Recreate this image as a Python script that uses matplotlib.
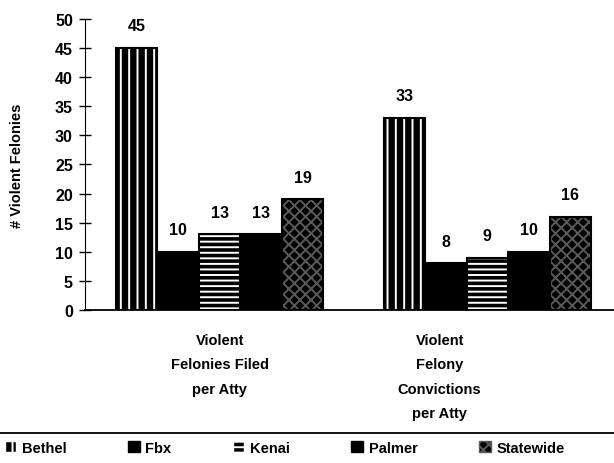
import matplotlib.pyplot as plt
from matplotlib.patches import Patch
from matplotlib.lines import Line2D

plt.rcParams['font.family'] = ['Liberation Sans', 'DejaVu Sans']
plt.rcParams['font.weight'] = 'bold'
plt.rcParams['axes.labelweight'] = 'bold'
plt.rcParams['hatch.linewidth'] = 1.4

# data
offices = ["Bethel", "Fbx", "Kenai", "Palmer", "Statewide"]
filed = [45, 10, 13, 13, 19]
convictions = [33, 8, 9, 10, 16]
categories = ["Violent\nFelonies Filed\nper Atty", "Violent\nFelony\nConvictions\nper Atty"]

# bar styles per office: (facecolor, hatch, hatch colour)
styles = [
    ("black", "||", "white"),
    ("black", None, "black"),
    ("black", "---", "white"),
    ("black", None, "black"),
    ("black", "xxx", "#5a5a5a"),
]

fig = plt.figure(figsize=(6.14, 4.64), dpi=100)
ax = fig.add_axes([0.138, 0.33, 0.862, 0.627])

group_starts = [1.25, 7.7]
for start, vals in zip(group_starts, [filed, convictions]):
    for i, (v, (fc, h, hc)) in enumerate(zip(vals, styles)):
        x = start + i
        ax.bar(x, v, width=1.0, color=fc, edgecolor=hc, hatch=h, linewidth=0)
        ax.bar(x, v, width=1.0, fill=False, edgecolor="black", linewidth=1.5)
        ax.text(x, v + 2.5, str(v), ha="center", va="bottom", fontsize=11.5)

ax.set_xlim(0, 12.75)
ax.set_ylim(0, 50)
ax.set_yticks(range(0, 51, 5))
ax.set_xticks([])
ax.tick_params(axis="y", direction="inout", length=9, width=1, labelsize=11.5, pad=4)
ax.spines["top"].set_visible(False)
ax.spines["right"].set_visible(False)
ax.spines["bottom"].set_linewidth(1.3)
ax.set_ylabel("# Violent Felonies", fontsize=10.5, labelpad=22)

# category labels under each group
for xpos, label in zip([3.25, 8.55], categories):
    ax.text(xpos, -4, label, ha="center", va="top", fontsize=10.5, linespacing=1.93)

# rule above legend
fig.add_artist(Line2D([0, 1], [0.065, 0.065], color="black", linewidth=1.3))

handles = [Patch(facecolor=fc, edgecolor=hc, hatch=h) for fc, h, hc in styles]
fig.legend(handles, offices, loc="lower left", bbox_to_anchor=(-0.014, -0.01), ncol=5,
           frameon=False, fontsize=10.5, handlelength=0.8, handleheight=0.8,
           handletextpad=0.4, columnspacing=4.2)

fig.savefig("out.png", dpi=100)
